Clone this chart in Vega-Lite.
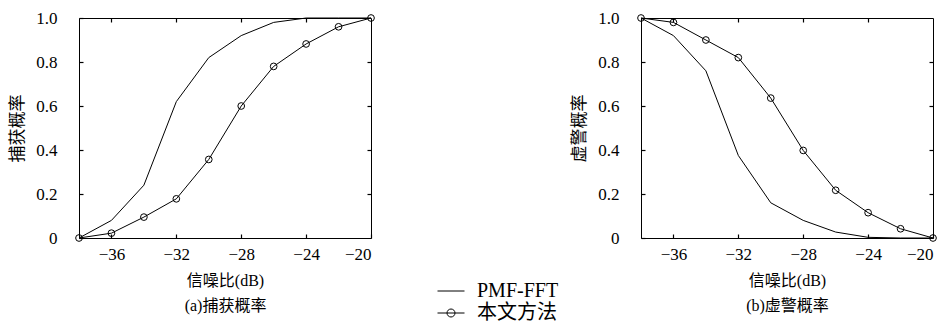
{
  "$schema": "https://vega.github.io/schema/vega-lite/v6.json",
  "padding": {"left": 8, "top": 8, "right": 5, "bottom": 0},
  "background": "white",
  "config": {
    "font": "Liberation Serif, Noto Sans CJK SC",
    "view": {"stroke": "black", "strokeWidth": 1},
    "axis": {
      "domain": false,
      "grid": false,
      "ticks": true,
      "tickSize": 4,
      "tickWidth": 1.2,
      "tickColor": "black",
      "offset": -4,
      "zindex": 1,
      "labelColor": "black",
      "labelFont": "Liberation Serif, Noto Sans CJK SC",
      "labelFontSize": 17,
      "titleFont": "Liberation Serif, Noto Sans CJK SC",
      "titleFontSize": 16,
      "titleFontWeight": "normal",
      "titleColor": "black"
    },
    "legend": {
      "labelFont": "Liberation Serif, Noto Sans CJK SC",
      "labelFontSize": 20,
      "labelColor": "black"
    }
  },
  "datasets": {
    "a": [
      {"snr": -38, "p": 0.0, "method": "PMF-FFT"},
      {"snr": -36, "p": 0.08, "method": "PMF-FFT"},
      {"snr": -34, "p": 0.24, "method": "PMF-FFT"},
      {"snr": -32, "p": 0.62, "method": "PMF-FFT"},
      {"snr": -30, "p": 0.82, "method": "PMF-FFT"},
      {"snr": -28, "p": 0.92, "method": "PMF-FFT"},
      {"snr": -26, "p": 0.98, "method": "PMF-FFT"},
      {"snr": -24, "p": 1.0, "method": "PMF-FFT"},
      {"snr": -22, "p": 1.0, "method": "PMF-FFT"},
      {"snr": -20, "p": 1.0, "method": "PMF-FFT"},
      {"snr": -38, "p": 0.0, "method": "本文方法"},
      {"snr": -36, "p": 0.022, "method": "本文方法"},
      {"snr": -34, "p": 0.095, "method": "本文方法"},
      {"snr": -32, "p": 0.178, "method": "本文方法"},
      {"snr": -30, "p": 0.357, "method": "本文方法"},
      {"snr": -28, "p": 0.6, "method": "本文方法"},
      {"snr": -26, "p": 0.78, "method": "本文方法"},
      {"snr": -24, "p": 0.882, "method": "本文方法"},
      {"snr": -22, "p": 0.96, "method": "本文方法"},
      {"snr": -20, "p": 1.0, "method": "本文方法"}
    ],
    "b": [
      {"snr": -38, "p": 1.0, "method": "PMF-FFT"},
      {"snr": -36, "p": 0.92, "method": "PMF-FFT"},
      {"snr": -34, "p": 0.76, "method": "PMF-FFT"},
      {"snr": -32, "p": 0.375, "method": "PMF-FFT"},
      {"snr": -30, "p": 0.16, "method": "PMF-FFT"},
      {"snr": -28, "p": 0.08, "method": "PMF-FFT"},
      {"snr": -26, "p": 0.027, "method": "PMF-FFT"},
      {"snr": -24, "p": 0.003, "method": "PMF-FFT"},
      {"snr": -22, "p": 0.0, "method": "PMF-FFT"},
      {"snr": -20, "p": 0.0, "method": "PMF-FFT"},
      {"snr": -38, "p": 1.0, "method": "本文方法"},
      {"snr": -36, "p": 0.98, "method": "本文方法"},
      {"snr": -34, "p": 0.9, "method": "本文方法"},
      {"snr": -32, "p": 0.82, "method": "本文方法"},
      {"snr": -30, "p": 0.636, "method": "本文方法"},
      {"snr": -28, "p": 0.398, "method": "本文方法"},
      {"snr": -26, "p": 0.217, "method": "本文方法"},
      {"snr": -24, "p": 0.115, "method": "本文方法"},
      {"snr": -22, "p": 0.042, "method": "本文方法"},
      {"snr": -20, "p": 0.0, "method": "本文方法"}
    ]
  },
  "spacing": 193,
  "resolve": {"scale": {"color": "shared"}, "legend": {"color": "shared"}},
  "hconcat": [
    {
      "width": 292,
      "height": 220,
      "data": {"name": "a"},
      "resolve": {"axis": {"x": "independent", "y": "independent"}},
      "layer": [
        {
          "mark": {"type": "line", "strokeWidth": 1},
          "encoding": {
            "x": {"field": "snr", "type": "quantitative", "scale": {"domain": [-38, -20], "nice": false, "zero": false},
                  "axis": {"orient": "bottom", "values": [-36, -32, -28, -24, -20], "format": "d", "labelPadding": 8, "title": ["信噪比(dB)", "(a)捕获概率"], "titleLineHeight": 25, "titlePadding": 10}},
            "y": {"field": "p", "type": "quantitative", "scale": {"domain": [0, 1], "nice": false},
                  "axis": {"orient": "left", "values": [0, 0.2, 0.4, 0.6, 0.8, 1.0], "labelExpr": "datum.value === 0 ? '0' : format(datum.value, '.1f')", "labelPadding": 22, "title": "捕获概率", "titleFontSize": 17, "titlePadding": 9}},
            "color": {"field": "method", "type": "nominal",
                      "scale": {"domain": ["PMF-FFT", "本文方法"], "range": ["black", "black"]},
                      "legend": {"orient": "none", "legendX": 362, "legendY": 263, "title": null, "symbolSize": 100, "symbolStrokeWidth": 1, "labelOffset": 16, "rowPadding": 2,
                                 "encode": {"symbols": {"update": {"shape": {"signal": "datum.value === 'PMF-FFT' ? 'M-2.7,0H2.7' : 'M-2.7,0H2.7M0.8,0A0.8,0.8 0 1 1 -0.8,0A0.8,0.8 0 1 1 0.8,0'"}, "fill": {"value": "transparent"}, "stroke": {"value": "black"}}}}}}
          }
        },
        {
          "transform": [{"filter": "datum.method === '本文方法'"}],
          "mark": {"type": "point", "shape": "circle", "filled": false, "stroke": "black", "strokeWidth": 1, "size": 45, "opacity": 1},
          "encoding": {
            "x": {"field": "snr", "type": "quantitative", "axis": {"orient": "top", "values": [-36, -32, -28, -24], "labels": false, "title": null}},
            "y": {"field": "p", "type": "quantitative", "axis": {"orient": "right", "values": [0.2, 0.4, 0.6, 0.8], "labels": false, "title": null}}
          }
        }
      ]
    },
    {
      "width": 292,
      "height": 220,
      "data": {"name": "b"},
      "resolve": {"axis": {"x": "independent", "y": "independent"}},
      "layer": [
        {
          "mark": {"type": "line", "strokeWidth": 1},
          "encoding": {
            "x": {"field": "snr", "type": "quantitative", "scale": {"domain": [-38, -20], "nice": false, "zero": false},
                  "axis": {"orient": "bottom", "values": [-36, -32, -28, -24, -20], "format": "d", "labelPadding": 8, "title": ["信噪比(dB)", "(b)虚警概率"], "titleLineHeight": 25, "titlePadding": 10}},
            "y": {"field": "p", "type": "quantitative", "scale": {"domain": [0, 1], "nice": false},
                  "axis": {"orient": "left", "values": [0, 0.2, 0.4, 0.6, 0.8, 1.0], "labelExpr": "datum.value === 0 ? '0' : format(datum.value, '.1f')", "labelPadding": 22, "title": "虚警概率", "titleFontSize": 17, "titlePadding": 9}},
            "color": {"field": "method", "type": "nominal",
                      "scale": {"domain": ["PMF-FFT", "本文方法"], "range": ["black", "black"]}}
          }
        },
        {
          "transform": [{"filter": "datum.method === '本文方法'"}],
          "mark": {"type": "point", "shape": "circle", "filled": false, "stroke": "black", "strokeWidth": 1, "size": 45, "opacity": 1},
          "encoding": {
            "x": {"field": "snr", "type": "quantitative", "axis": {"orient": "top", "values": [-36, -32, -28, -24], "labels": false, "title": null}},
            "y": {"field": "p", "type": "quantitative", "axis": {"orient": "right", "values": [0.2, 0.4, 0.6, 0.8], "labels": false, "title": null}}
          }
        }
      ]
    }
  ]
}
